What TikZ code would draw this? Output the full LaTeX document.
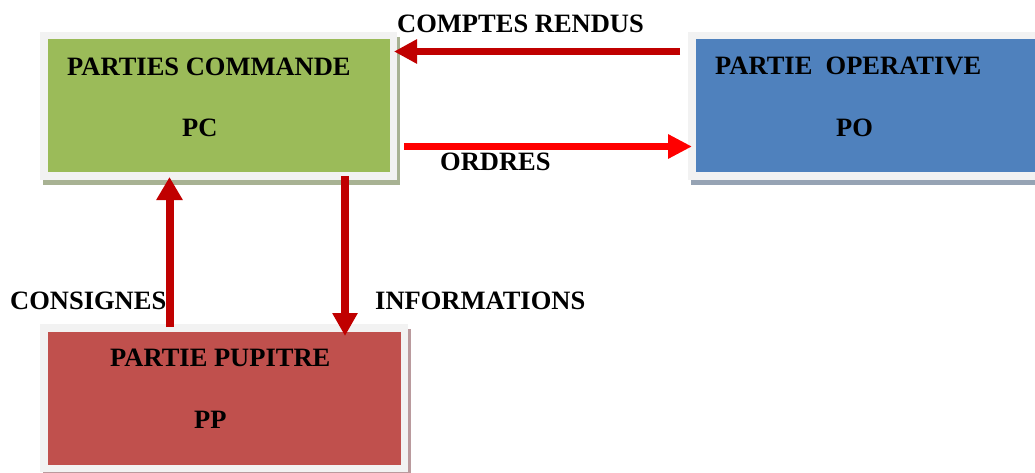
\documentclass[tikz,border=0pt]{standalone}
\usepackage{fontspec}
\setmainfont{Liberation Serif}
\usetikzlibrary{arrows.meta,calc,backgrounds}

\definecolor{framegrey}{HTML}{F2F2F2}
\definecolor{pcgreen}{HTML}{9BBB59}
\definecolor{pcshade}{HTML}{A8B293}
\definecolor{poblue}{HTML}{4F81BD}
\definecolor{poshade}{HTML}{96A3B4}
\definecolor{ppred}{HTML}{C0504D}
\definecolor{ppshade}{HTML}{BA9A9D}
\definecolor{darkarrow}{HTML}{C00000}
\definecolor{brightarrow}{HTML}{FF0000}

\tikzset{
  box/.style={draw=framegrey, line width=7.5pt, inner sep=0pt,
              minimum height=140.5pt},
  lbl/.style={anchor=base west, inner sep=0pt, text=black,
              font=\bfseries\fontsize{26.5}{30}\selectfont},
  arr/.style={line width=7pt,
              -{Triangle[length=23pt,width=23pt]}},
}

\begin{document}
\begin{tikzpicture}[x=1pt,y=-1pt]
\path[use as bounding box, clip] (0,0) rectangle (1035,473);

% the three blocks
\node[box, fill=pcgreen, minimum width=349.5pt] (pc) at (218.5,106) {};
\node[box, fill=poblue,  minimum width=349.5pt] (po) at (866.5,106) {};
\node[box, fill=ppred,   minimum width=360.5pt] (pp) at (224,398) {};

% drop shadows behind the blocks
\begin{scope}[on background layer]
  \fill[pcshade] ($(pc.north west)+(3,5)$) rectangle ($(pc.south east)+(3,5)$);
  \fill[poshade] ($(po.north west)+(3,5)$) rectangle ($(po.south east)+(3,5)$);
  \fill[ppshade] ($(pp.north west)+(3,5)$) rectangle ($(pp.south east)+(3,5)$);
\end{scope}

% block texts
\node[lbl] (pct) at (67,76)   {PARTIES COMMANDE};
\node[lbl] (pcs) at (182,137) {PC};
\node[lbl] (pot) at (715,75)  {PARTIE\ \ OPERATIVE};
\node[lbl] (pos) at (836,137) {PO};
\node[lbl] (ppt) at (110,366) {PARTIE PUPITRE};
\node[lbl] (pps) at (194,428) {PP};

% exchanges between the blocks
\draw[arr, darkarrow]
  ($(po.north west)+(-8,19.5)$) -- ($(pc.north east)+(-3,19.5)$);
\draw[arr, brightarrow, -{Triangle[length=24pt,width=23pt]}]
  ($(pc.north east)+(7,114.5)$) -- ($(po.north west)+(4,114.5)$);
\draw[arr, darkarrow, line width=8pt, -{Triangle[length=23pt,width=25pt]}]
  ($(pp.north west)+(129.5,3)$) -- ($(pc.south west)+(129.5,-3)$);
\draw[arr, darkarrow, line width=8pt, -{Triangle[length=23pt,width=24pt]}]
  ($(pc.south west)+(305,-4)$) -- ($(pp.north west)+(305,12)$);

% exchange labels
\node[lbl] (cr)  at (397,33)    {COMPTES RENDUS};
\node[lbl] (ord) at (440,171)   {ORDRES};
\node[lbl] (cons) at (10,309.5) {CONSIGNES};
\node[lbl] (inf) at (375,309.5) {INFORMATIONS};
\end{tikzpicture}
\end{document}
